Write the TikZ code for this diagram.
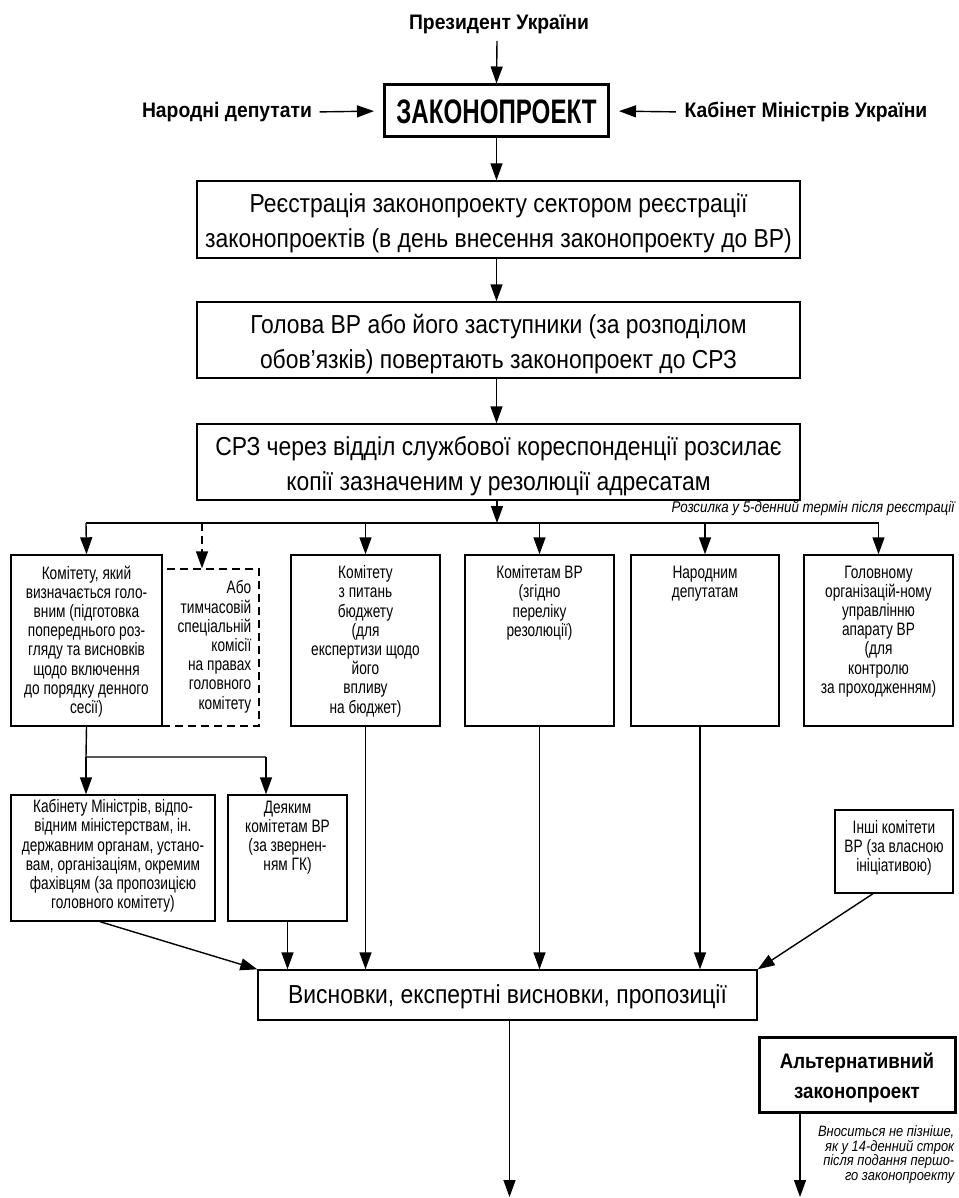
\documentclass[tikz,border=0pt]{standalone}
\usepackage{fontspec}
\setmainfont[FakeStretch=0.88]{Liberation Sans}
\newfontfamily\famHead[FakeStretch=0.92]{Liberation Sans}
\newfontfamily\famTitle[FakeStretch=0.71]{Liberation Sans}
\newfontfamily\famAlt[FakeStretch=0.89]{Liberation Sans}
\newfontfamily\famSm[FakeStretch=0.76]{Liberation Sans}
\newfontfamily\famNote[FakeStretch=0.86]{Liberation Sans}
\usetikzlibrary{arrows.meta}
\newcommand\fTitle{\famTitle\fontsize{34}{36}\bfseries\selectfont}
\newcommand\fHead{\famHead\fontsize{21}{24}\bfseries\selectfont}
\newcommand\fBig{\fontsize{26}{35}\selectfont}
\newcommand\fAlt{\famAlt\fontsize{21}{30}\bfseries\selectfont}
\newcommand\fSm{\famSm\fontsize{18}{19.2}\selectfont}
\newcommand\fNote{\famNote\fontsize{15.5}{17}\itshape\selectfont}
\newcommand\fNoteS{\famNote\fontsize{15}{14.6}\itshape\selectfont}
\begin{document}
\begin{tikzpicture}[x=1pt,y=-1pt,line width=1.4pt,
  arr/.style={-{Triangle[length=17pt,width=12pt]}},
  box/.style={draw,line width=1.4pt,inner sep=0,fill=white},
  thickbox/.style={draw,line width=3pt,inner sep=0,fill=white},
  dbox/.style={draw,line width=1.4pt,inner sep=0,dash pattern=on 8pt off 5pt},
  txt/.style={inner sep=0,anchor=north,align=center,font=\fSm},
  bigtxt/.style={inner sep=0,align=center,font=\fBig},
  plain/.style={inner sep=0}]
\useasboundingbox (0,0) rectangle (958,1198);

% --- initiators and the bill
\node[plain,font=\fHead] (pres) at (499,24) {Президент України};
\node[thickbox,minimum width=224pt,minimum height=52pt] (zp) at (496.5,111) {};
\node[plain,font=\fTitle] (zpt) at (496.5,112) {ЗАКОНОПРОЕКТ};
\node[plain,font=\fHead] (nd) at (227,112) {Народні депутати};
\node[plain,font=\fHead] (km) at (806,112) {Кабінет Міністрів України};
\coordinate (presEnd) at (497,41);
\draw[arr] (presEnd) -- (zp.north);
\draw[arr,shorten <=7pt,shorten >=9pt] (nd.east) -- (zp.west);
\draw[arr,shorten <=8pt,shorten >=9pt] (km.west) -- (zp.east);

% --- registration chain
\node[box,minimum width=603pt,minimum height=77pt] (r1) at (498.5,219.5) {};
\node[box,minimum width=603pt,minimum height=76pt] (r2) at (498.5,340) {};
\node[box,minimum width=603pt,minimum height=76pt] (r3) at (498.5,462) {};
\node[bigtxt] (tr1) at (498.5,223.5)
  {Реєстрація законопроекту сектором реєстрації\\законопроектів (в день внесення законопроекту до ВР)};
\node[bigtxt] (tr2) at (498.5,344)
  {Голова ВР або його заступники (за розподілом\\обов’язків) повертають законопроект до СРЗ};
\node[bigtxt] (tr3) at (498.5,466)
  {СРЗ через відділ службової кореспонденції розсилає\\копії зазначеним у резолюції адресатам};
\draw[arr] (zp.south) -- (r1.north -| zp.south);
\draw[arr] (r1.south -| zp.south) -- (r2.north -| zp.south);
\draw[arr] (r2.south -| zp.south) -- (r3.north -| zp.south);

% --- distribution bus
\coordinate (hub) at (497,523);
\coordinate (busL) at (86,523);
\coordinate (busR) at (878.5,523);
\draw[arr] (r3.south -| hub) -- (hub);
\draw (busL) -- (busR);
\node[plain,anchor=east,font=\fNote] (note1) at (955,508) {Розсилка у 5-денний термін після реєстрації};

% --- addressees
\node[dbox,minimum width=97pt,minimum height=157pt] (b2) at (210.5,647.5) {};
\node[box,minimum width=151pt,minimum height=171pt] (b1) at (86.5,640.5) {};
\node[box,minimum width=149pt,minimum height=171pt] (b3) at (365.5,640.5) {};
\node[box,minimum width=149pt,minimum height=171pt] (b4) at (539.5,640.5) {};
\node[box,minimum width=148pt,minimum height=171pt] (b5) at (705,640.5) {};
\node[box,minimum width=149pt,minimum height=171pt] (b6) at (878.5,640.5) {};

\node[txt] (t1) at (86.5,565) {Комітету, який\\визначається голо-\\вним (підготовка\\попереднього роз-\\гляду та висновків\\щодо включення\\до порядку денного\\сесії)};
\node[txt,anchor=north east,align=right] (t2) at (252,580) {Або\\тимчасовій\\спеціальній\\комісії\\на правах\\головного\\комітету};
\node[txt] (t3) at (365.5,565) {Комітету\\з питань\\бюджету\\(для\\експертизи щодо\\його\\впливу\\на бюджет)};
\node[txt] (t4) at (539.5,565) {Комітетам ВР\\(згідно\\переліку\\резолюції)};
\node[txt] (t5) at (705,565) {Народним\\депутатам};
\node[txt] (t6) at (878.5,565) {Головному\\організацій-ному\\управлінню\\апарату ВР\\(для\\контролю\\за проходженням)};

\draw[arr] (busL) -- (b1.north);
\draw[arr,dash pattern=on 8pt off 5pt] (busL -| 202,0) -- (b2.north -| 202,0);
\draw[arr] (busL -| b3.north) -- (b3.north);
\draw[arr] (busL -| b4.north) -- (b4.north);
\draw[arr] (busL -| b5.north) -- (b5.north);
\draw[arr] (busL -| b6.north) -- (b6.north);

% --- requests made by the main committee
\node[box,minimum width=204pt,minimum height=126pt] (c1) at (113,858) {};
\node[box,minimum width=119pt,minimum height=126pt] (c2) at (287.5,858) {};
\node[txt,anchor=center] (tc1) at (113,856) {Кабінету Міністрів, відпо-\\відним міністерствам, ін.\\державним органам, устано-\\вам, організаціям, окремим\\фахівцям (за пропозицією\\головного комітету)};
\node[txt] (tc2) at (287.5,800) {Деяким\\комітетам ВР\\(за звернен-\\ням ГК)};
\coordinate (fork) at (86,757);
\coordinate (forkR) at (266,757);
\draw (b1.south) -- (fork) -- (forkR);
\draw[arr] (fork) -- (c1.north -| fork);
\draw[arr] (forkR) -- (c2.north -| forkR);

\node[box,minimum width=118pt,minimum height=83pt] (oth) at (894,851.5) {};
\node[txt,anchor=center] (toth) at (894,848) {Інші комітети\\ВР (за власною\\ініціативою)};

% --- conclusions
\node[box,minimum width=499pt,minimum height=50pt] (fin) at (507.5,995) {};
\node[plain,font=\fBig] (tfin) at (507.5,997) {Висновки, експертні висновки, пропозиції};
\draw[arr] ([xshift=-13pt]c1.south) -- (fin.north west);
\draw[arr] (c2.south) -- (c2.south |- fin.north);
\draw[arr] (b3.south) -- (b3.south |- fin.north);
\draw[arr] (b4.south) -- (b4.south |- fin.north);
\draw[arr] ([xshift=-5pt]b5.south) -- ([xshift=-5pt]b5.south |- fin.north);
\draw[arr] ([xshift=-21pt]oth.south) -- (fin.north east);

\coordinate (finEnd) at (509.5,1197);
\draw[arr] (fin.south -| finEnd) -- (finEnd);

% --- alternative bill
\node[thickbox,minimum width=196pt,minimum height=75pt] (alt) at (857,1074.5) {};
\node[plain,font=\fAlt,align=center] (talt) at (857,1078) {Альтернативний\\законопроект};
\coordinate (altEnd) at (800,1197);
\draw[arr] (alt.south -| altEnd) -- (altEnd);
\node[plain,anchor=north east,align=right,font=\fNoteS] (note2) at (955,1125) {Вноситься не пізніше,\\як у 14-денний строк\\після подання першо-\\го законопроекту};
\end{tikzpicture}
\end{document}
